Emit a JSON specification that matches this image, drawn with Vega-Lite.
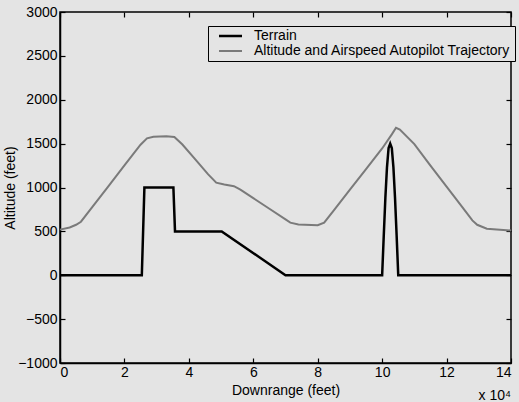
{
  "$schema": "https://vega.github.io/schema/vega-lite/v6.json",
  "width": 451,
  "height": 351,
  "autosize": {"type": "none"},
  "padding": {"left": 60, "top": 12, "right": 8, "bottom": 39},
  "background": "#e4e4e4",
  "title": {
    "text": "x 10⁴",
    "orient": "bottom",
    "anchor": "end",
    "frame": "group",
    "offset": -8,
    "font": "Liberation Sans",
    "fontSize": 14,
    "fontWeight": "normal",
    "color": "black"
  },
  "config": {
    "view": {"stroke": "black", "strokeWidth": 1.5},
    "font": "Liberation Sans",
    "axis": {
      "grid": false,
      "domainColor": "black",
      "domainWidth": 1.5,
      "tickColor": "black",
      "tickWidth": 1.2,
      "tickSize": -5,
      "labelFont": "Liberation Sans",
      "labelFontSize": 14,
      "labelColor": "black",
      "titleFont": "Liberation Sans",
      "titleFontSize": 14,
      "titleFontWeight": "normal",
      "titleColor": "black"
    }
  },
  "data": {
    "values": [
      {"series": "Terrain", "x": 0, "alt": 0},
      {"series": "Terrain", "x": 25400, "alt": 0},
      {"series": "Terrain", "x": 26200, "alt": 1000},
      {"series": "Terrain", "x": 35200, "alt": 1000},
      {"series": "Terrain", "x": 35700, "alt": 500},
      {"series": "Terrain", "x": 50200, "alt": 500},
      {"series": "Terrain", "x": 70000, "alt": 0},
      {"series": "Terrain", "x": 100000, "alt": 0},
      {"series": "Terrain", "x": 100500, "alt": 450},
      {"series": "Terrain", "x": 101000, "alt": 880},
      {"series": "Terrain", "x": 101500, "alt": 1230},
      {"series": "Terrain", "x": 102000, "alt": 1450},
      {"series": "Terrain", "x": 102500, "alt": 1500},
      {"series": "Terrain", "x": 103000, "alt": 1450},
      {"series": "Terrain", "x": 103500, "alt": 1230},
      {"series": "Terrain", "x": 104000, "alt": 880},
      {"series": "Terrain", "x": 104500, "alt": 450},
      {"series": "Terrain", "x": 105000, "alt": 0},
      {"series": "Terrain", "x": 140000, "alt": 0},
      {"series": "Altitude and Airspeed Autopilot Trajectory", "x": 0, "alt": 520},
      {"series": "Altitude and Airspeed Autopilot Trajectory", "x": 3000, "alt": 545},
      {"series": "Altitude and Airspeed Autopilot Trajectory", "x": 5000, "alt": 575},
      {"series": "Altitude and Airspeed Autopilot Trajectory", "x": 6500, "alt": 610},
      {"series": "Altitude and Airspeed Autopilot Trajectory", "x": 10000, "alt": 776},
      {"series": "Altitude and Airspeed Autopilot Trajectory", "x": 15000, "alt": 1014},
      {"series": "Altitude and Airspeed Autopilot Trajectory", "x": 20000, "alt": 1251},
      {"series": "Altitude and Airspeed Autopilot Trajectory", "x": 25000, "alt": 1488},
      {"series": "Altitude and Airspeed Autopilot Trajectory", "x": 27000, "alt": 1560},
      {"series": "Altitude and Airspeed Autopilot Trajectory", "x": 29000, "alt": 1578},
      {"series": "Altitude and Airspeed Autopilot Trajectory", "x": 33000, "alt": 1585},
      {"series": "Altitude and Airspeed Autopilot Trajectory", "x": 35500, "alt": 1575},
      {"series": "Altitude and Airspeed Autopilot Trajectory", "x": 38000, "alt": 1490},
      {"series": "Altitude and Airspeed Autopilot Trajectory", "x": 42000, "alt": 1321},
      {"series": "Altitude and Airspeed Autopilot Trajectory", "x": 46000, "alt": 1150},
      {"series": "Altitude and Airspeed Autopilot Trajectory", "x": 48500, "alt": 1055},
      {"series": "Altitude and Airspeed Autopilot Trajectory", "x": 51000, "alt": 1035},
      {"series": "Altitude and Airspeed Autopilot Trajectory", "x": 54000, "alt": 1015},
      {"series": "Altitude and Airspeed Autopilot Trajectory", "x": 56000, "alt": 975},
      {"series": "Altitude and Airspeed Autopilot Trajectory", "x": 60000, "alt": 879},
      {"series": "Altitude and Airspeed Autopilot Trajectory", "x": 65000, "alt": 758},
      {"series": "Altitude and Airspeed Autopilot Trajectory", "x": 70000, "alt": 637},
      {"series": "Altitude and Airspeed Autopilot Trajectory", "x": 71500, "alt": 600},
      {"series": "Altitude and Airspeed Autopilot Trajectory", "x": 74000, "alt": 578},
      {"series": "Altitude and Airspeed Autopilot Trajectory", "x": 80000, "alt": 570},
      {"series": "Altitude and Airspeed Autopilot Trajectory", "x": 82000, "alt": 600},
      {"series": "Altitude and Airspeed Autopilot Trajectory", "x": 85000, "alt": 740},
      {"series": "Altitude and Airspeed Autopilot Trajectory", "x": 90000, "alt": 975},
      {"series": "Altitude and Airspeed Autopilot Trajectory", "x": 95000, "alt": 1210},
      {"series": "Altitude and Airspeed Autopilot Trajectory", "x": 100000, "alt": 1445},
      {"series": "Altitude and Airspeed Autopilot Trajectory", "x": 103000, "alt": 1605},
      {"series": "Altitude and Airspeed Autopilot Trajectory", "x": 104300, "alt": 1680},
      {"series": "Altitude and Airspeed Autopilot Trajectory", "x": 105500, "alt": 1660},
      {"series": "Altitude and Airspeed Autopilot Trajectory", "x": 110000, "alt": 1495},
      {"series": "Altitude and Airspeed Autopilot Trajectory", "x": 115000, "alt": 1250},
      {"series": "Altitude and Airspeed Autopilot Trajectory", "x": 120000, "alt": 1010},
      {"series": "Altitude and Airspeed Autopilot Trajectory", "x": 125000, "alt": 770},
      {"series": "Altitude and Airspeed Autopilot Trajectory", "x": 128000, "alt": 625},
      {"series": "Altitude and Airspeed Autopilot Trajectory", "x": 129500, "alt": 575},
      {"series": "Altitude and Airspeed Autopilot Trajectory", "x": 132500, "alt": 530},
      {"series": "Altitude and Airspeed Autopilot Trajectory", "x": 140000, "alt": 510}
    ]
  },
  "layer": [
    {
      "mark": {"type": "line", "strokeJoin": "miter"},
      "encoding": {
        "x": {
          "field": "x",
          "type": "quantitative",
          "scale": {"domain": [0, 140000], "nice": false},
          "axis": {
            "title": "Downrange (feet)",
            "values": [0, 20000, 40000, 60000, 80000, 100000, 120000, 140000],
            "labelExpr": "format(datum.value / 10000, 'd')",
            "labelPadding": 7,
            "titlePadding": 4
          }
        },
        "y": {
          "field": "alt",
          "type": "quantitative",
          "scale": {"domain": [-1000, 3000], "nice": false},
          "axis": {
            "title": "Altitude (feet)",
            "values": [-1000, -500, 0, 500, 1000, 1500, 2000, 2500, 3000],
            "format": "d",
            "labelPadding": 8,
            "titlePadding": 0
          }
        },
        "detail": {"field": "series"},
        "color": {
          "field": "series",
          "type": "nominal",
          "sort": ["Terrain", "Altitude and Airspeed Autopilot Trajectory"],
          "scale": {
            "domain": ["Terrain", "Altitude and Airspeed Autopilot Trajectory"],
            "range": ["#000000", "#7a7a7a"]
          },
          "legend": {
            "orient": "none",
            "legendX": 148,
            "legendY": 14,
            "title": null,
            "strokeColor": "black",
            "fillColor": "#e4e4e4",
            "padding": 3,
            "symbolType": "M0.25,0H6",
            "symbolSize": 64,
            "symbolStrokeWidth": 2.5,
            "labelOffset": 29,
            "labelFont": "Liberation Sans",
            "labelFontSize": 14,
            "labelColor": "black",
            "labelLimit": 400,
            "rowPadding": 1
          }
        },
        "strokeWidth": {
          "field": "series",
          "type": "nominal",
          "scale": {
            "domain": ["Terrain", "Altitude and Airspeed Autopilot Trajectory"],
            "range": [2.5, 2]
          },
          "legend": null
        }
      }
    },
    {
      "mark": {"type": "line", "opacity": 0},
      "encoding": {
        "x": {
          "field": "x",
          "type": "quantitative",
          "scale": {"domain": [0, 140000], "nice": false},
          "axis": {
            "orient": "top",
            "title": null,
            "labels": false,
            "domain": false,
            "values": [0, 20000, 40000, 60000, 80000, 100000, 120000, 140000]
          }
        },
        "y": {
          "field": "alt",
          "type": "quantitative",
          "scale": {"domain": [-1000, 3000], "nice": false},
          "axis": {
            "orient": "right",
            "title": null,
            "labels": false,
            "domain": false,
            "values": [-1000, -500, 0, 500, 1000, 1500, 2000, 2500, 3000]
          }
        },
        "detail": {"field": "series"}
      }
    }
  ],
  "resolve": {"scale": {"x": "independent", "y": "independent"}}
}
